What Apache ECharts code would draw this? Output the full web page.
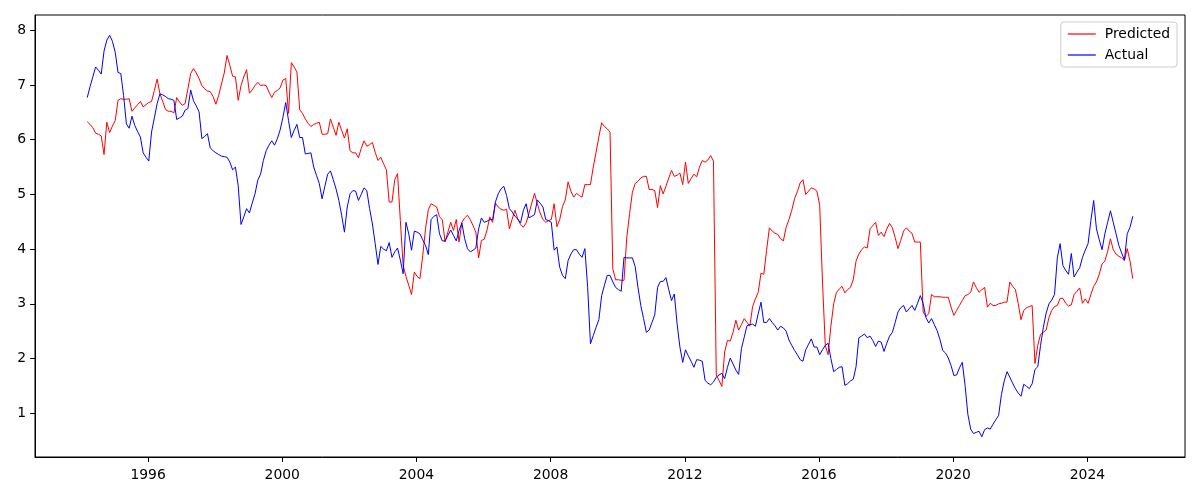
<!DOCTYPE html>
<html>
<head>
<meta charset="utf-8">
<script src="https://cdn.jsdelivr.net/npm/echarts@6/dist/echarts.min.js"></script>
<style>html,body{margin:0;padding:0;background:#fff;}#c{width:1200px;height:500px;}</style>
</head>
<body>
<div id="c"></div>
<script>
// Monthly series, starting March 1994
const startYear = 1994;
const startMonth = 3;
const yearTicks = [1996, 2000, 2004, 2008, 2012, 2016, 2020, 2024];
const valueTicks = [1, 2, 3, 4, 5, 6, 7, 8];
const seriesNames = ['Predicted', 'Actual'];

const predicted = [
6.33,6.28,6.22,6.12,6.10,6.07,5.73,6.32,6.13,6.25,6.35,6.72,6.75,6.74,6.74,6.75,6.52,6.58,6.64,6.70,
6.60,6.64,6.68,6.70,6.90,7.11,6.84,6.70,6.55,6.52,6.52,6.49,6.77,6.69,6.63,6.66,6.93,7.21,7.30,7.22,
7.12,6.99,6.93,6.89,6.88,6.79,6.65,6.81,7.02,7.22,7.54,7.36,7.16,7.15,6.72,6.99,7.15,7.28,6.85,6.91,
6.99,7.05,6.99,7.00,6.99,6.87,6.77,6.87,6.90,6.95,7.09,7.12,6.48,7.41,7.33,7.24,6.55,6.48,6.38,6.30,
6.24,6.28,6.30,6.32,6.10,6.10,6.11,6.38,6.23,6.08,6.32,6.17,6.03,6.20,5.80,5.76,5.76,5.67,5.84,5.98,
5.88,5.91,5.95,5.77,5.62,5.68,5.56,5.45,4.86,4.86,5.27,5.38,4.52,3.70,3.50,3.34,3.17,3.58,3.50,3.46,
3.88,4.37,4.72,4.83,4.80,4.77,4.59,4.54,4.13,4.31,4.49,4.34,4.54,4.13,4.49,4.57,4.62,4.54,4.43,4.31,
3.84,4.16,4.18,4.35,4.59,4.49,4.84,4.77,4.73,4.71,4.73,4.37,4.55,4.71,4.55,4.45,4.40,4.48,4.65,4.84,
5.02,4.83,4.66,4.54,4.49,4.52,4.54,4.83,4.41,4.54,4.78,4.90,5.23,5.06,4.95,5.02,4.98,4.95,5.18,5.18,
5.18,5.50,5.77,6.05,6.31,6.24,6.20,6.14,3.64,3.44,3.44,3.43,3.43,4.22,4.65,5.04,5.20,5.24,5.30,5.33,
5.33,5.09,5.09,5.07,4.76,5.16,5.01,5.15,5.30,5.44,5.33,5.35,5.39,5.18,5.59,5.20,5.29,5.37,5.32,5.50,
5.62,5.59,5.63,5.71,5.61,1.70,1.60,1.49,2.12,2.33,2.32,2.48,2.70,2.52,2.62,2.73,2.66,2.59,2.95,3.09,
3.21,3.56,3.54,3.98,4.39,4.33,4.29,4.27,4.19,4.15,4.40,4.54,4.71,4.92,5.05,5.21,5.27,5.00,5.06,5.12,
5.10,5.06,4.80,3.40,2.24,2.07,2.59,3.00,3.21,3.27,3.32,3.20,3.26,3.30,3.44,3.78,3.91,3.99,4.04,4.02,
4.37,4.43,4.49,4.25,4.31,4.23,4.37,4.47,4.39,4.21,4.01,4.16,4.33,4.39,4.33,4.29,4.13,4.13,4.13,2.85,
2.77,2.82,3.17,3.13,3.13,3.13,3.12,3.12,3.12,2.94,2.79,2.88,2.97,3.06,3.15,3.17,3.21,3.40,3.30,3.21,
3.26,3.30,2.94,3.01,2.97,2.97,3.00,3.01,3.03,3.03,3.40,3.32,3.26,3.01,2.71,2.88,2.93,2.95,2.97,1.91,
2.24,2.44,2.48,2.52,2.75,2.88,2.95,2.97,3.10,3.10,3.01,2.96,2.98,3.17,3.23,3.29,3.01,3.09,3.01,3.17,
3.32,3.40,3.54,3.73,3.78,3.96,4.19,3.99,3.91,3.87,3.84,3.79,4.01,3.78,3.46
];

const actual = [
6.77,6.97,7.15,7.33,7.27,7.20,7.62,7.82,7.91,7.80,7.60,7.23,7.21,6.81,6.29,6.21,6.43,6.26,6.15,6.05,
5.76,5.68,5.61,6.14,6.40,6.66,6.84,6.82,6.79,6.75,6.74,6.72,6.37,6.40,6.43,6.54,6.57,6.91,6.71,6.62,
6.51,6.02,6.06,6.11,5.85,5.80,5.76,5.73,5.70,5.69,5.68,5.59,5.45,5.50,5.16,4.45,4.59,4.74,4.66,4.84,
5.01,5.26,5.37,5.62,5.80,5.90,5.98,5.90,6.02,6.18,6.41,6.68,6.35,6.04,6.17,6.28,6.04,6.04,5.74,5.75,
5.76,5.50,5.35,5.20,4.92,5.15,5.37,5.43,5.27,5.10,4.89,4.62,4.31,4.77,5.01,5.07,5.06,4.89,5.00,5.12,
5.07,4.74,4.46,4.10,3.72,4.05,4.00,3.97,4.12,3.85,3.95,4.02,3.80,3.55,4.49,4.28,3.98,4.33,4.31,4.28,
4.17,4.07,3.90,4.54,4.60,4.63,4.28,4.15,4.15,4.25,4.35,4.25,4.15,4.34,4.48,4.19,4.01,3.95,3.98,4.02,
4.37,4.57,4.49,4.51,4.54,4.54,4.86,5.01,5.10,5.15,4.98,4.74,4.68,4.60,4.55,4.48,4.71,4.83,4.57,4.60,
4.63,4.90,4.84,4.77,4.54,4.52,4.49,3.98,4.04,3.67,3.52,3.46,3.79,3.91,3.99,3.99,3.91,3.85,4.01,3.30,
2.27,2.42,2.57,2.71,3.15,3.34,3.52,3.52,3.40,3.30,3.26,3.23,3.85,3.84,3.84,3.84,3.68,3.30,2.97,2.73,
2.48,2.52,2.66,2.80,3.30,3.41,3.41,3.48,3.26,3.06,3.18,2.63,2.21,1.93,2.16,2.05,1.95,1.84,1.98,1.97,
1.95,1.60,1.55,1.52,1.57,1.66,1.70,1.73,1.63,1.84,2.01,1.90,1.79,1.71,2.18,2.39,2.60,2.62,2.63,2.59,
2.82,3.03,2.66,2.66,2.73,2.66,2.60,2.52,2.59,2.56,2.50,2.34,2.24,2.15,2.07,1.98,1.95,2.16,2.26,2.36,
2.21,2.21,2.07,2.16,2.24,2.28,2.00,1.76,1.80,1.84,1.85,1.51,1.54,1.59,1.62,1.85,2.38,2.41,2.45,2.38,
2.41,2.33,2.22,2.32,2.30,2.13,2.28,2.41,2.48,2.66,2.85,2.93,2.97,2.85,2.91,2.97,2.88,3.01,3.15,3.01,
2.75,2.65,2.73,2.62,2.51,2.35,2.15,2.10,2.01,1.87,1.69,1.70,1.83,1.93,1.51,0.98,0.71,0.63,0.65,0.67,
0.57,0.70,0.73,0.71,0.80,0.88,0.96,1.34,1.59,1.76,1.66,1.55,1.45,1.37,1.31,1.53,1.49,1.45,1.54,1.80,
1.85,2.24,2.57,2.83,3.00,3.07,3.17,3.84,4.10,3.70,3.61,3.54,3.92,3.49,3.58,3.66,3.85,3.98,4.10,4.52,
4.89,4.37,4.17,3.99,4.28,4.49,4.70,4.49,4.28,4.07,3.93,3.80,4.28,4.40,4.60
];

function toPairs(arr) {
  return arr.map((v, i) => [startYear + (startMonth - 1 + 0.25 + i) / 12, v]);
}

const chart = echarts.init(document.getElementById('c'), null, { renderer: 'canvas' });
const font = 'DejaVu Sans';
chart.setOption({
  animation: false,
  backgroundColor: '#ffffff',
  grid: {
    left: 35, right: 15, top: 15, bottom: 43,
    show: true, borderColor: '#000', borderWidth: 1, backgroundColor: 'transparent'
  },
  legend: {
    data: seriesNames,
    orient: 'vertical',
    right: 23, top: 22,
    icon: 'rect', itemWidth: 28, itemHeight: 1.2,
    itemGap: 7,
    padding: [5, 7, 5, 7],
    borderColor: '#cccccc', borderWidth: 1, borderRadius: 3,
    backgroundColor: 'rgba(255,255,255,0.8)',
    textStyle: { fontFamily: font, fontSize: 13.9, color: '#000', padding: [0, 0, 0, 4] }
  },
  xAxis: {
    type: 'value',
    min: 1992.63, max: 2026.91,
    axisLine: { show: true, lineStyle: { color: '#000', width: 1 } },
    axisTick: { show: true, length: 4.9, lineStyle: { color: '#000', width: 1 }, customValues: yearTicks },
    axisLabel: { customValues: yearTicks, color: '#000', fontFamily: font, fontSize: 13.9, margin: 11,
      formatter: v => String(v) },
    splitLine: { show: false }
  },
  yAxis: {
    type: 'value',
    min: 0.2, max: 8.28,
    axisLine: { show: true, lineStyle: { color: '#000', width: 1 } },
    axisTick: { show: true, length: 4.9, lineStyle: { color: '#000', width: 1 }, customValues: valueTicks },
    axisLabel: { customValues: valueTicks, color: '#000', fontFamily: font, fontSize: 13.9, margin: 9,
      formatter: v => String(v) },
    splitLine: { show: false }
  },
  series: [
    {
      name: seriesNames[0], type: 'line', data: toPairs(predicted),
      showSymbol: false, symbol: 'none',
      lineStyle: { color: '#ff0000', width: 1 }, itemStyle: { color: '#ff0000' }
    },
    {
      name: seriesNames[1], type: 'line', data: toPairs(actual),
      showSymbol: false, symbol: 'none',
      lineStyle: { color: '#0000ff', width: 1 }, itemStyle: { color: '#0000ff' }
    }
  ]
});
</script>
</body>
</html>
